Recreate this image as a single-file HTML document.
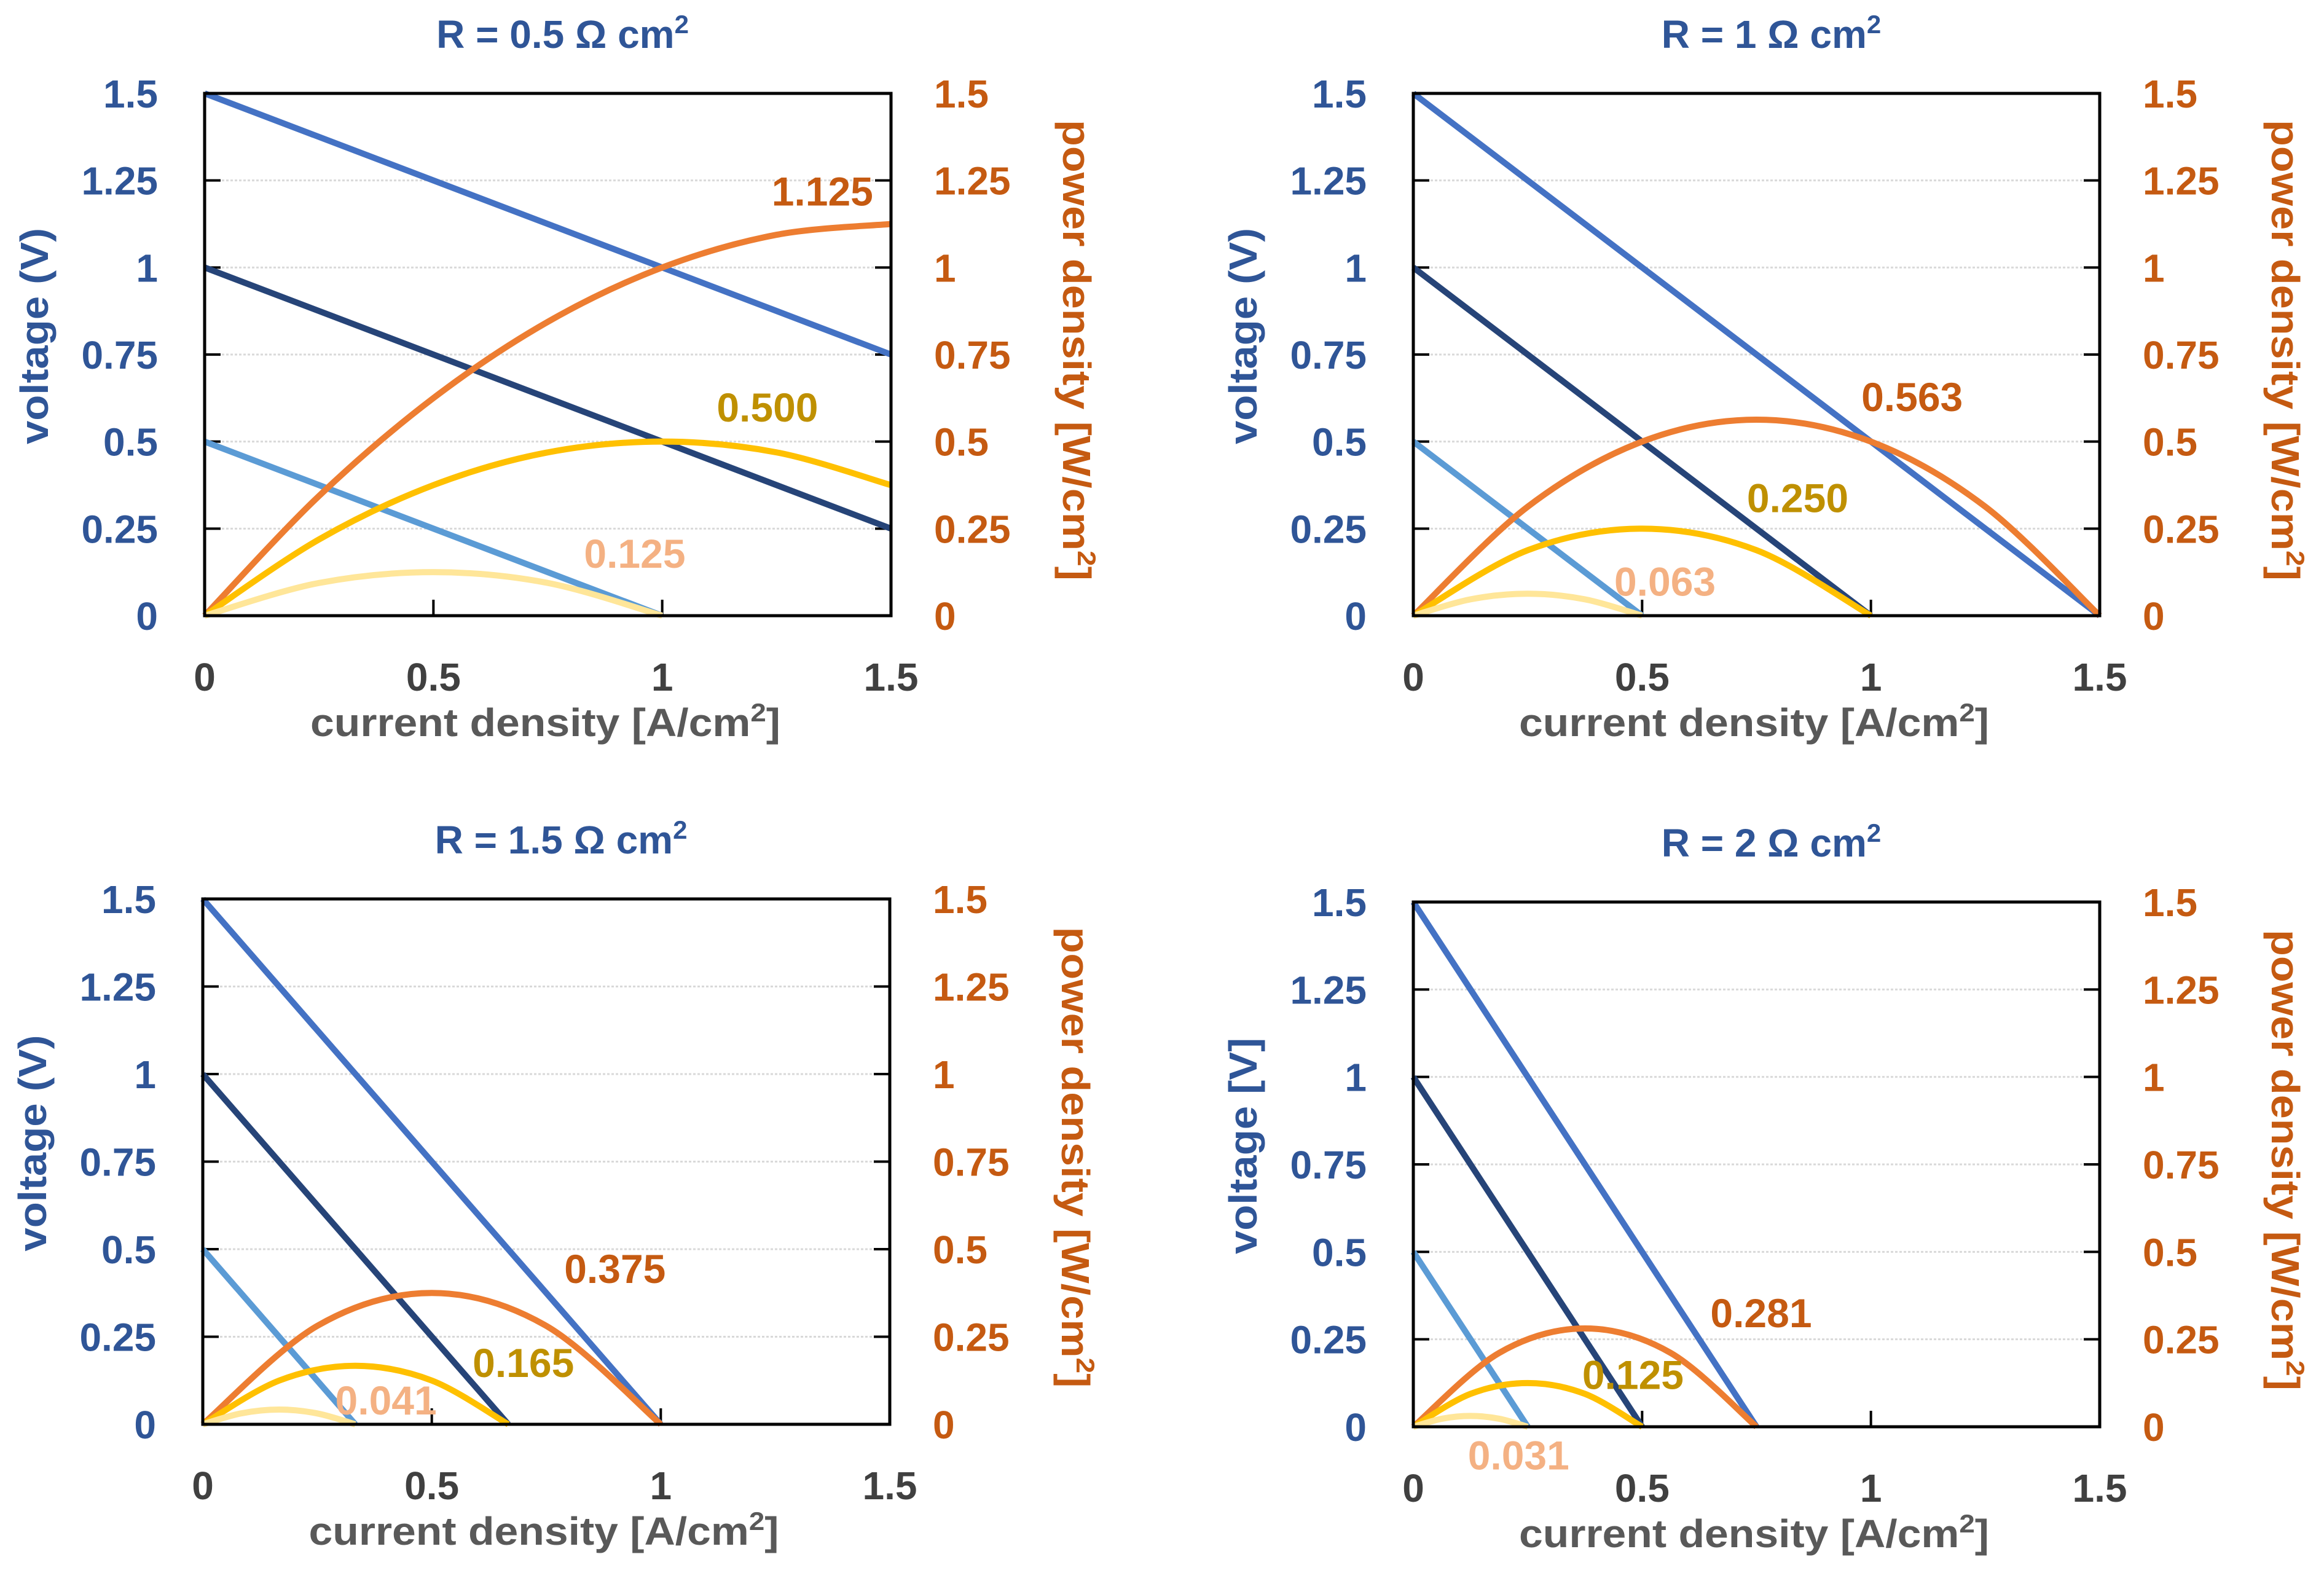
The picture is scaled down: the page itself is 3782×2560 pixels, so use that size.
<!DOCTYPE html>
<html><head><meta charset="utf-8"><style>
html,body{margin:0;padding:0;background:#fff;}
svg{display:block;font-family:"Liberation Sans",sans-serif;font-weight:bold;}
</style></head><body>
<svg id="chart" width="3782" height="2560" viewBox="0 0 3782 2560" xmlns="http://www.w3.org/2000/svg"></svg>
<script>
const panelTitles = ["0.5", "1", "1.5", "2"];
const xTicks = [0, 0.5, 1, 1.5];
const yTicks = [0, 0.25, 0.5, 0.75, 1, 1.25, 1.5];
const yTickLabels = ["0", "0.25", "0.5", "0.75", "1", "1.25", "1.5"];
const xTickLabels = ["0", "0.5", "1", "1.5"];
const yTitles = ["voltage (V)", "voltage (V)", "voltage (V)", "voltage [V]"];
// voltage lines (E=1.5, 1.0, 0.5) endpoints [i, V]
const volt1 = [[[0,1.5],[1.5,0.75]], [[0,1],[1.5,0.25]], [[0,0.5],[1,0]]];
const volt2 = [[[0,1.5],[1.5,0]], [[0,1],[1,0]], [[0,0.5],[0.5,0]]];
const volt3 = [[[0,1.5],[1,0]], [[0,1],[0.667,0]], [[0,0.5],[0.333,0]]];
const volt4 = [[[0,1.5],[0.75,0]], [[0,1],[0.5,0]], [[0,0.5],[0.25,0]]];
// power curves [i, P]
const pow1 = [
 [[0,0],[0.25,0.344],[0.5,0.625],[0.75,0.844],[1,1.0],[1.25,1.094],[1.5,1.125]],
 [[0,0],[0.25,0.219],[0.5,0.375],[0.75,0.469],[1,0.5],[1.25,0.469],[1.5,0.375]],
 [[0,0],[0.25,0.094],[0.5,0.125],[0.75,0.094],[1,0]]];
const pow2 = [
 [[0,0],[0.25,0.313],[0.5,0.5],[0.75,0.563],[1,0.5],[1.25,0.313],[1.5,0]],
 [[0,0],[0.25,0.188],[0.5,0.25],[0.75,0.188],[1,0]],
 [[0,0],[0.125,0.047],[0.25,0.063],[0.375,0.047],[0.5,0]]];
const pow3 = [
 [[0,0],[0.25,0.281],[0.5,0.375],[0.75,0.281],[1,0]],
 [[0,0],[0.167,0.125],[0.333,0.167],[0.5,0.125],[0.667,0]],
 [[0,0],[0.083,0.031],[0.167,0.042],[0.25,0.031],[0.333,0]]];
const pow4 = [
 [[0,0],[0.1875,0.211],[0.375,0.281],[0.5625,0.211],[0.75,0]],
 [[0,0],[0.125,0.094],[0.25,0.125],[0.375,0.094],[0.5,0]],
 [[0,0],[0.0625,0.023],[0.125,0.031],[0.1875,0.023],[0.25,0]]];
// peak labels [text, i, P]
const peaks1 = [["1.125",1.35,1.22],["0.500",1.23,0.60],["0.125",0.94,0.18]];
const peaks2 = [["0.563",1.09,0.63],["0.250",0.84,0.34],["0.063",0.55,0.10]];
const peaks3 = [["0.375",0.90,0.446],["0.165",0.70,0.177],["0.041",0.40,0.07]];
const peaks4 = [["0.281",0.76,0.327],["0.125",0.48,0.15],["0.031",0.23,-0.08]];

const NS = "http://www.w3.org/2000/svg";
const svg = document.getElementById("chart");
const frames = [[333,152,1450,1002],[2300,152,3417,1002],[330,1463,1448,2318],[2300,1468,3417,2322]];
const volts = [volt1, volt2, volt3, volt4];
const pows = [pow1, pow2, pow3, pow4];
const peaks = [peaks1, peaks2, peaks3, peaks4];
const vColors = ["#4472C4", "#264478", "#5B9BD5"];
const pColors = ["#ED7D31", "#FFC000", "#FFE699"];
const lColors = ["#C55A11", "#BF9000", "#F4B183"];

function mk(tag, attrs, parent) {
  const e = document.createElementNS(NS, tag);
  for (const k in attrs) e.setAttribute(k, attrs[k]);
  (parent || svg).appendChild(e);
  return e;
}
function smooth(pts) {
  let d = "M" + pts[0][0] + "," + pts[0][1];
  for (let i = 0; i < pts.length - 1; i++) {
    const p0 = pts[i - 1] || pts[i], p1 = pts[i], p2 = pts[i + 1], p3 = pts[i + 2] || p2;
    const c1 = [p1[0] + (p2[0] - p0[0]) / 6, p1[1] + (p2[1] - p0[1]) / 6];
    const c2 = [p2[0] - (p3[0] - p1[0]) / 6, p2[1] - (p3[1] - p1[1]) / 6];
    d += " C" + c1 + " " + c2 + " " + p2;
  }
  return d;
}

frames.forEach((f, pi) => {
  const [L, T, R, B] = f;
  const sx = v => L + (v / 1.5) * (R - L);
  const sy = v => B - (v / 1.5) * (B - T);
  const g = mk("g", {});
  
  

  yTicks.forEach((t, k) => {
    if (t > 0 && t < 1.5) {
      const gl = mk("line", {x1: L, x2: R, y1: sy(t), y2: sy(t), stroke: "#d9d9d9", "stroke-width": 3, "stroke-dasharray": "4 3"}, g);
      
      
      mk("line", {x1: L, x2: L + 26, y1: sy(t), y2: sy(t), stroke: "#000", "stroke-width": 4}, g);
      mk("line", {x1: R - 26, x2: R, y1: sy(t), y2: sy(t), stroke: "#000", "stroke-width": 4}, g);
    }
    const lt = mk("text", {x: L - 76, y: sy(t) + 23, "text-anchor": "end", "font-size": 64, fill: "#2F5597"}, g);
    lt.textContent = yTickLabels[k];
    
    
    const rt = mk("text", {x: R + 70, y: sy(t) + 23, "text-anchor": "start", "font-size": 64, fill: "#C55A11"}, g);
    rt.textContent = yTickLabels[k];
    
    
  });
  xTicks.forEach((t, k) => {
    if (t > 0 && t < 1.5) mk("line", {x1: sx(t), x2: sx(t), y1: B - 26, y2: B, stroke: "#000", "stroke-width": 4}, g);
    const xt = mk("text", {x: sx(t), y: B + 122, "text-anchor": "middle", "font-size": 64, fill: "#404040"}, g);
    xt.textContent = xTickLabels[k];
    
    
  });

  volts[pi].forEach((ln, k) => {
    const l = mk("line", {x1: sx(ln[0][0]), y1: sy(ln[0][1]), x2: sx(ln[1][0]), y2: sy(ln[1][1]), stroke: vColors[k], "stroke-width": 10}, g);
    
    
  });
  pows[pi].forEach((c, k) => {
    const p = mk("path", {d: smooth(c.map(q => [sx(q[0]), sy(q[1])])), fill: "none", stroke: pColors[k], "stroke-width": 10}, g);
    
    
  });
  peaks[pi].forEach((pk, k) => {
    const t = mk("text", {x: sx(pk[1]), y: sy(pk[2]) + 24, "text-anchor": "middle", "font-size": 66, fill: lColors[k]}, g);
    t.textContent = pk[0];
    
    
  });

  const fr = mk("rect", {x: L, y: T, width: R - L, height: B - T, fill: "none", stroke: "#000", "stroke-width": 5}, g);
  
  

  const cx = (L + R) / 2;
  const tt = mk("text", {x: cx + 24, y: T - 74, "text-anchor": "middle", "font-size": 64, fill: "#2F5597"}, g);
  
  
  tt.innerHTML = 'R = ' + panelTitles[pi] + ' Ω cm<tspan dy="-24" font-size="42">2</tspan>';

  const xl = mk("text", {x: cx - 4, y: B + 196, "text-anchor": "middle", "font-size": 64, fill: "#595959", textLength: 765, lengthAdjust: "spacingAndGlyphs"}, g);
  
  
  xl.innerHTML = 'current density [A/cm<tspan dy="-24" font-size="42">2</tspan><tspan dy="24">]</tspan>';

  const ymid = (T + B) / 2;
  const yl = mk("text", {x: 0, y: 0, "text-anchor": "middle", "font-size": 64, fill: "#2F5597", textLength: 352, lengthAdjust: "spacingAndGlyphs", transform: "translate(" + (L - 255) + "," + (ymid - 30) + ") rotate(-90)"}, g);
  
  
  yl.textContent = yTitles[pi];

  const rl = mk("text", {x: 0, y: 0, "text-anchor": "middle", "font-size": 64, fill: "#C55A11", textLength: 750, lengthAdjust: "spacingAndGlyphs", transform: "translate(" + (R + 280) + "," + (ymid - 7) + ") rotate(90)"}, g);
  
  
  rl.innerHTML = 'power density [W/cm<tspan dy="-24" font-size="42">2</tspan><tspan dy="24">]</tspan>';
});
</script>
</body></html>
